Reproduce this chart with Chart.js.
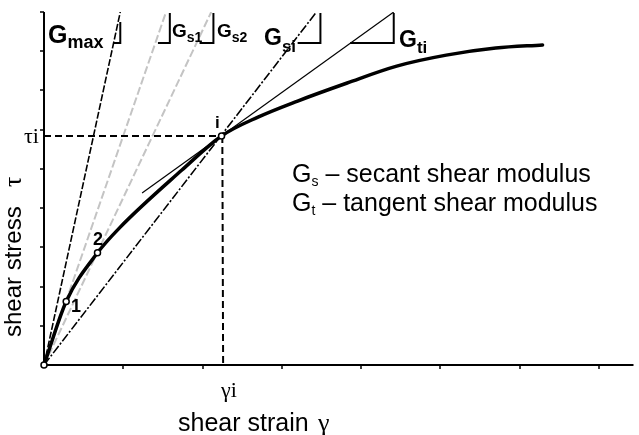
<!DOCTYPE html>
<html>
<head>
<meta charset="utf-8">
<script src="https://cdn.jsdelivr.net/npm/chart.js@4.4.0/dist/chart.umd.min.js"></script>
<style>
  html, body { margin: 0; padding: 0; background: #fff; }
  #modulusChart { display: block; }
</style>
</head>
<body>
<canvas id="modulusChart" width="639" height="435"></canvas>
<script>
// axis ranges and tick positions (unitless strain / stress)
const strainMax = 7.4375;
const stressMax = 9;
const strainTicks = [1, 2, 3, 4, 5, 6, 7];
const stressTicks = [1, 2, 3, 4, 5, 6, 7, 8, 9];

// stress-strain backbone curve
const curveStrain = [0, 0.28, 0.675, 0.95, 1.74, 2.24, 2.70, 3.2, 3.825, 4.45, 5.075, 5.70, 6.29];
const curveStress = [0, 1.62, 2.86, 3.49, 4.97, 5.84, 6.32, 6.73, 7.19, 7.62, 7.90, 8.08, 8.16];

// marked points: origin, 1, 2, i
const pointStrain = [0, 0.28, 0.675, 2.24];
const pointStress = [0, 1.62, 2.86, 5.84];

// modulus lines
const gMaxStrain = [0, 0.9625];
const gMaxStress = [0, 9];
const gs1Strain = [0, 1.54];
const gs1Stress = [0, 9];
const gs2Strain = [0, 2.11];
const gs2Stress = [0, 9];
const gsiStrain = [0, 3.4375];
const gsiStress = [0, 9];
const gtiStrain = [1.2375, 4.4125];
const gtiStress = [4.385, 9];

// slope triangles
const gMaxTriStrain = [0.875, 0.9625, 0.9625];
const gMaxTriStress = [8.21, 8.21, 8.745];
const gs1TriStrain = [1.4375, 1.5875, 1.5875];
const gs2TriStrain = [1.9625, 2.1375, 2.1375];
const gsiTriStrain = [3.2, 3.4875, 3.4875];
const gtiTriStrain = [3.8625, 4.4125, 4.4125];
const triStress = [8.21, 8.21, 8.975];

// projection of point i
const tauIStrain = [0, 2.24];
const tauIStress = [5.84, 5.84];
const gammaIStrain = [2.25, 2.26];
const gammaIStress = [5.84, 0];

const sans = '"Liberation Sans", Arial, sans-serif';
const serif = '"Liberation Serif", "Times New Roman", serif';

function toPoints(xs, ys) {
    return xs.map((x, i) => ({ x: x, y: ys[i] }));
}

function lineSet(xs, ys, color, width, dash) {
    return {
        data: toPoints(xs, ys),
        borderColor: color,
        borderWidth: width,
        borderDash: dash,
        pointRadius: 0,
        fill: false,
        tension: 0
    };
}

function drawSub(ctx, main, sub, x, y, mainFont, subFont, drop) {
    ctx.font = mainFont;
    ctx.fillText(main, x, y);
    const w = ctx.measureText(main).width;
    ctx.font = subFont;
    ctx.fillText(sub, x + w, y + drop);
    return x + w + ctx.measureText(sub).width;
}

// axes with small outside ticks
const axesPlugin = {
    id: 'axesPlugin',
    beforeDatasetsDraw(chart) {
        const { ctx, scales: { x, y } } = chart;
        const x0 = x.getPixelForValue(0);
        const y0 = y.getPixelForValue(0);
        ctx.save();
        ctx.strokeStyle = '#000';
        ctx.lineWidth = 2;
        ctx.beginPath();
        ctx.moveTo(x0, y0);
        ctx.lineTo(x.getPixelForValue(strainMax), y0);
        ctx.moveTo(x0, y0);
        ctx.lineTo(x0, y.getPixelForValue(stressMax));
        ctx.stroke();

        ctx.lineWidth = 1.5;
        ctx.beginPath();
        strainTicks.forEach(t => {
            const px = Math.round(x.getPixelForValue(t));
            ctx.moveTo(px, y0);
            ctx.lineTo(px, y0 + 4);
        });
        stressTicks.forEach(t => {
            const py = Math.round(y.getPixelForValue(t));
            ctx.moveTo(x0, py);
            ctx.lineTo(x0 - 4, py);
        });
        ctx.stroke();
        ctx.restore();
    }
};

// labels and annotations
const labelPlugin = {
    id: 'labelPlugin',
    afterDatasetsDraw(chart) {
        const { ctx } = chart;
        ctx.save();
        ctx.fillStyle = '#000';
        ctx.textAlign = 'left';
        ctx.textBaseline = 'alphabetic';

        drawSub(ctx, 'G', 'max', 48, 43, 'bold 25px ' + sans, 'bold 18px ' + sans, 5);
        drawSub(ctx, 'G', 's1', 172, 37, 'bold 19px ' + sans, 'bold 14px ' + sans, 5);
        drawSub(ctx, 'G', 's2', 217, 37, 'bold 19px ' + sans, 'bold 14px ' + sans, 5);
        drawSub(ctx, 'G', 'si', 264, 45, 'bold 23px ' + sans, 'bold 17px ' + sans, 7);
        drawSub(ctx, 'G', 'ti', 399, 47, 'bold 23px ' + sans, 'bold 17px ' + sans, 6);

        ctx.font = 'bold 17px ' + sans;
        ctx.fillText('i', 215, 128);
        ctx.font = 'bold 18px ' + sans;
        ctx.fillText('2', 93, 245);
        ctx.fillText('1', 71, 312);

        // legend text
        let end = drawSub(ctx, 'G', 's', 292, 182, '25px ' + sans, '14px ' + sans, 4);
        ctx.font = '25px ' + sans;
        ctx.fillText(' \u2013 secant shear modulus', end, 182);
        end = drawSub(ctx, 'G', 't', 292, 211, '25px ' + sans, '14px ' + sans, 4);
        ctx.font = '25px ' + sans;
        ctx.fillText(' \u2013 tangent shear modulus', end, 211);

        // tau_i and gamma_i
        ctx.font = '22px ' + serif;
        ctx.fillText('\u03C4i', 24, 143);
        ctx.fillText('\u03B3i', 221, 397);

        // axis titles
        ctx.font = '25px ' + sans;
        ctx.fillText('shear strain', 178, 431);
        ctx.font = '26px ' + serif;
        ctx.fillText('\u03B3', 318, 431);

        ctx.translate(21, 337);
        ctx.rotate(-Math.PI / 2);
        ctx.font = '24px ' + sans;
        ctx.fillText('shear stress', 0, 0);
        ctx.font = '26px ' + serif;
        ctx.fillText('\u03C4', 150, 0);
        ctx.restore();
    }
};

function createModulusChart() {
    const canvas = document.getElementById('modulusChart');
    const black = '#000000';
    const grey = '#c4c4c4';

    const points = {
        data: toPoints(pointStrain, pointStress),
        showLine: false,
        pointRadius: 3,
        pointBorderWidth: 1.5,
        pointBackgroundColor: '#ffffff',
        pointBorderColor: black,
        clip: false
    };

    const curve = lineSet(curveStrain, curveStress, black, 3.5, []);
    curve.cubicInterpolationMode = 'monotone';
    curve.borderCapStyle = 'round';

    const datasets = [
        points,
        curve,
        lineSet(gMaxTriStrain, gMaxTriStress, black, 2, []),
        lineSet(gs1TriStrain, triStress, black, 2, []),
        lineSet(gs2TriStrain, triStress, black, 2, []),
        lineSet(gsiTriStrain, triStress, black, 2, []),
        lineSet(gtiTriStrain, triStress, black, 2, []),
        lineSet(gtiStrain, gtiStress, black, 1.2, []),
        lineSet(gsiStrain, gsiStress, black, 1.6, [9, 2, 2, 2]),
        lineSet(gMaxStrain, gMaxStress, black, 1.6, [7, 2]),
        lineSet(tauIStrain, tauIStress, black, 2, [7, 4]),
        lineSet(gammaIStrain, gammaIStress, black, 2, [7, 4]),
        lineSet(gs1Strain, gs1Stress, grey, 2, [8, 3]),
        lineSet(gs2Strain, gs2Stress, grey, 2, [8, 3])
    ];

    const chart = new Chart(canvas, {
        type: 'line',
        data: { datasets: datasets },
        options: {
            responsive: false,
            animation: false,
            devicePixelRatio: 1,
            layout: {
                padding: { left: 44, top: 12, right: 0, bottom: 70 }
            },
            plugins: {
                legend: { display: false },
                tooltip: { enabled: false }
            },
            scales: {
                x: { type: 'linear', min: 0, max: strainMax, display: false },
                y: { type: 'linear', min: 0, max: stressMax, display: false }
            }
        },
        plugins: [axesPlugin, labelPlugin]
    });
}

createModulusChart();
</script>
</body>
</html>
